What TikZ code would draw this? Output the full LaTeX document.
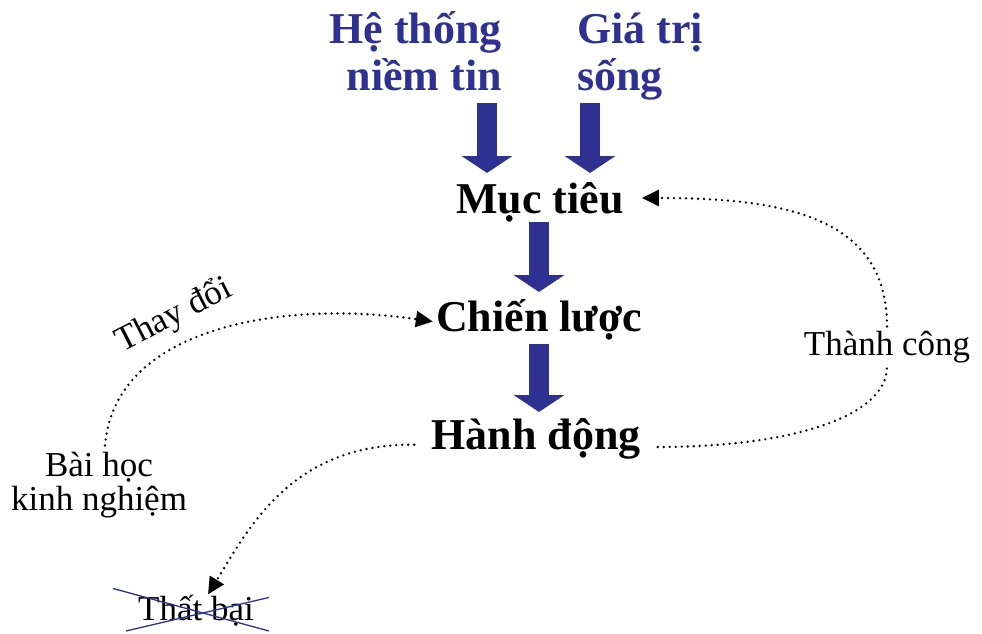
\documentclass[tikz,border=0pt]{standalone}
\usepackage{fontspec}
\setmainfont{Liberation Serif}
\usetikzlibrary{arrows.meta}
\definecolor{navy}{RGB}{46,49,146}
\begin{document}
\begin{tikzpicture}[x=1pt,y=-1pt,
    stage/.style={font=\fontsize{44}{47}\selectfont\bfseries, inner sep=0pt},
    source/.style={stage, text=navy},
    outcome/.style={font=\fontsize{35}{34}\selectfont, inner sep=0pt},
    bigarrow/.style={draw=navy, line width=20pt, -{Triangle[length=17pt,width=50pt]}},
    loopline/.style={line width=2.6pt, line cap=round, dash pattern=on 0pt off 6pt},
    tip/.style={-{Triangle[length=17pt,width=16pt]}},
    strike/.style={draw=navy, line width=1.3pt}]
  \useasboundingbox (0,0) rectangle (982,634);
  % labels (base of a two-line node is its last line)
  \node[source, align=right, anchor=base east] (hethong) at (502,90) {Hệ thống\\niềm tin};
  \node[source, align=left, anchor=base west] (giatri) at (577,90) {Giá trị\\sống};
  \node[stage, anchor=base] (muctieu) at (540,213) {Mục tiêu};
  \node[stage, anchor=base] (chienluoc) at (539,331) {Chiến lược};
  \node[stage, anchor=base] (hanhdong) at (536,449) {Hành động};
  \node[outcome, anchor=base, inner ysep=4pt] (thanhcong) at (887,355) {Thành công};
  \node[outcome, anchor=base, align=center, inner ysep=6pt] (baihoc) at (99,510) {Bài học\\kinh nghiệm};
  \node[outcome, anchor=base] (thatbai) at (196,620) {Thất bại};
  \node[outcome, rotate=27] (thaydoi) at (174,316) {Thay đổi};
  % block arrows
  \coordinate (hethong-out) at (487,103);
  \coordinate (giatri-out) at (590,103);
  \coordinate (hethong-in) at (487,173);
  \coordinate (giatri-in) at (590,173);
  \coordinate (muctieu-out) at (539,222);
  \coordinate (chienluoc-in) at (539,292);
  \coordinate (chienluoc-out) at (539,344);
  \coordinate (hanhdong-in) at (539,412);
  \draw[bigarrow] (hethong-out) -- (hethong-in);
  \draw[bigarrow] (giatri-out) -- (giatri-in);
  \draw[bigarrow] (muctieu-out) -- (chienluoc-in);
  \draw[bigarrow] (chienluoc-out) -- (hanhdong-in);
  % feedback loops
  \draw[loopline, shorten <=17pt] ([yshift=2pt]hanhdong.base east)
    .. controls +(150,0) and +(0,50) .. (thanhcong.south);
  \draw[loopline, tip, shorten >=18pt] (thanhcong.north)
    .. controls +(0,-110) and +(160,0) .. ([yshift=15pt]muctieu.base east);
  \draw[loopline, tip, shorten >=3pt] ([xshift=6pt]baihoc.north)
    .. controls +(10,-120) and +(-150,-22) .. ([yshift=9pt]chienluoc.base west);
  \draw[loopline, tip, shorten <=17pt] ([yshift=4pt]hanhdong.base west)
    .. controls +(-140,-2) and +(40,-65) .. ([xshift=12pt]thatbai.north);
  % crossed out
  \draw[strike] ([shift={(-25,-6)}]thatbai.north west) -- ([shift={(15,5)}]thatbai.south east);
  \draw[strike] ([shift={(-12,5)}]thatbai.south west) -- ([shift={(15,3)}]thatbai.north east);
\end{tikzpicture}
\end{document}
